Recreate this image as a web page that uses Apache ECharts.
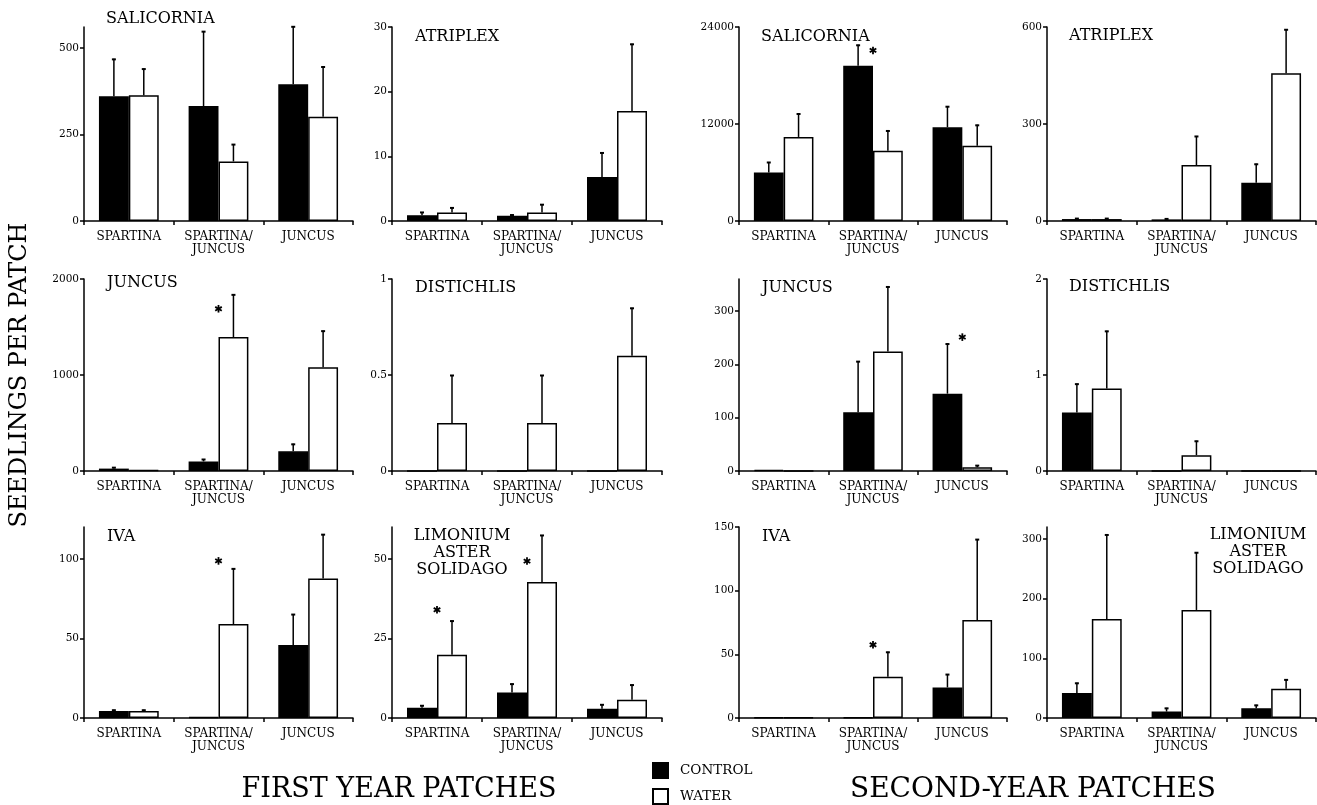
<!DOCTYPE html>
<html>
<head>
<meta charset="utf-8">
<script src="https://cdn.jsdelivr.net/npm/echarts@6/dist/echarts.min.js"></script>
<style>
  html, body { margin: 0; padding: 0; background: #fff; }
  #chart { width: 1317px; height: 805px; }
</style>
</head>
<body>
<div id="chart"></div>
<script>
// Seedlings per patch: mean and standard error, control vs. watered patches.
// Panels run left to right, top to bottom: first-year patches in the two left
// columns, second-year patches in the two right columns.
const categories = ['SPARTINA', 'SPARTINA/\nJUNCUS', 'JUNCUS'];
const seriesNames = ['CONTROL', 'WATER'];

const panelNames = [
  'SALICORNIA', 'ATRIPLEX', 'SALICORNIA', 'ATRIPLEX',
  'JUNCUS', 'DISTICHLIS', 'JUNCUS', 'DISTICHLIS',
  'IVA', 'LIMONIUM\nASTER\nSOLIDAGO', 'IVA', 'LIMONIUM\nASTER\nSOLIDAGO'
];

const controlMean = [
  [360, 332, 395], [0.9, 0.8, 6.8], [6000, 19200, 11600], [6, 5, 118],
  [25, 100, 205], [0, 0, 0], [2, 110, 145], [0.61, 0, 0],
  [4.4, 0.5, 45.8], [3.2, 8, 2.9], [0.5, 0.5, 24], [42, 10.8, 16.4]
];
const controlSE = [
  [108, 216, 167], [0.5, 0.2, 3.8], [1300, 2600, 2600], [3, 3, 59],
  [15, 25, 78], [0, 0, 0], [0, 96, 94], [0.3, 0, 0],
  [0.8, 0, 19.5], [0.8, 2.8, 1.4], [0, 0, 10.5], [17, 6.2, 5.6]
];
const waterMean = [
  [363, 172, 301], [1.3, 1.3, 17], [10400, 8700, 9300], [6, 173, 457],
  [8, 1395, 1080], [0.25, 0.25, 0.6], [0, 224, 7], [0.86, 0.165, 0],
  [4.4, 59, 87.7], [19.9, 42.7, 5.7], [0.5, 32.4, 77], [166, 181, 49]
];
const waterSE = [
  [77, 50, 145], [0.8, 1.3, 10.4], [2900, 2500, 2600], [3, 90, 136],
  [0, 445, 382], [0.25, 0.25, 0.25], [0, 122, 4], [0.6, 0.15, 0],
  [0.8, 35, 27.8], [10.7, 14.8, 4.8], [0, 19.6, 63.5], [141.5, 96.7, 15.7]
];

// significant differences: [category index, height of the asterisk]
const stars = [
  [], [], [[1, 21100]], [],
  [[1, 1690]], [], [[2, 251]], [],
  [[1, 98.7]], [[0, 34], [1, 49.3]], [[1, 57.5]], []
];

const yMax = [560, 30, 24000, 600, 2000, 1, 360, 2, 120, 60, 150, 320];
const yTicks = [
  [0, 250, 500], [0, 10, 20, 30], [0, 12000, 24000], [0, 300, 600],
  [0, 1000, 2000], [0, 0.5, 1], [0, 100, 200, 300], [0, 1, 2],
  [0, 50, 100], [0, 25, 50], [0, 50, 100, 150], [0, 100, 200, 300]
];

// ---- layout ----
const FONT = '"DejaVu Serif", "Liberation Serif", serif';
const GAP = 1 / 3;                       // share of each category band left empty
const colLeft = [84, 392, 739, 1047];
const colWidth = [269, 270, 268, 269];
const rowTop = [27, 279, 527];
const rowHeight = [194, 192, 191];
// where each panel name sits: [x, y of first line, align]
const nameAt = [
  [106, 10, 'left'], [415, 28, 'left'], [761, 28, 'left'], [1069, 27, 'left'],
  [107, 274, 'left'], [415, 279, 'left'], [762, 279, 'left'], [1069, 278, 'left'],
  [107, 528, 'left'], [462, 527, 'center'], [762, 528, 'left'], [1258, 526, 'center']
];
const legendTop = [762, 788];

const black = '#000';
const grids = [], xAxes = [], yAxes = [], series = [], graphics = [];

function errorBar(side) {
  return function (params, api) {
    const cat = api.value(0), mean = api.value(1), se = api.value(2);
    if (!(se > 0)) return;
    const band = api.size([1, 0])[0];
    const barW = band * (1 - GAP) / 2;
    const p0 = api.coord([cat, mean]);
    const p1 = api.coord([cat, mean + se]);
    const x = p0[0] + side * barW / 2;
    return {
      type: 'group',
      children: [
        { type: 'line', shape: { x1: x, y1: p0[1], x2: x, y2: p1[1] },
          style: { stroke: black, lineWidth: 1.5 } },
        { type: 'line', shape: { x1: x - 2, y1: p1[1] + 0.5, x2: x + 2, y2: p1[1] + 0.5 },
          style: { stroke: black, lineWidth: 2 } }
      ]
    };
  };
}

function asterisk(params, api) {
  const p = api.coord([api.value(0), api.value(1)]);
  const r = 3.8;
  const arms = [90, 30, -30].map(function (deg) {
    const a = deg * Math.PI / 180;
    const dx = r * Math.cos(a), dy = r * Math.sin(a);
    return { type: 'line', shape: { x1: p[0] - dx, y1: p[1] - dy, x2: p[0] + dx, y2: p[1] + dy },
             style: { stroke: black, lineWidth: 1.8 } };
  });
  return { type: 'group', children: arms };
}

for (let i = 0; i < 12; i++) {
  const row = Math.floor(i / 4), col = i % 4;
  grids.push({ left: colLeft[col], top: rowTop[row], width: colWidth[col], height: rowHeight[row] });
  xAxes.push({
    type: 'category', gridIndex: i, data: categories,
    axisLine: { lineStyle: { color: black, width: 1.5 } },
    axisTick: { show: true, length: 4, lineStyle: { color: black, width: 1.5 } },
    axisLabel: { interval: 0, color: black, fontFamily: FONT, fontSize: 12, margin: 9, lineHeight: 13 },
    splitLine: { show: false }
  });
  yAxes.push({
    type: 'value', gridIndex: i, min: 0, max: yMax[i],
    axisLine: { show: true, lineStyle: { color: black, width: 1.5 } },
    axisTick: { show: true, length: 4, customValues: yTicks[i], lineStyle: { color: black, width: 1.5 } },
    axisLabel: { customValues: yTicks[i], color: black, fontFamily: FONT, fontSize: 10.5, margin: 5,
                 formatter: function (v) { return String(v); } },
    splitLine: { show: false }
  });

  series.push({
    name: seriesNames[0], type: 'bar', xAxisIndex: i, yAxisIndex: i,
    data: controlMean[i], barGap: '0%', barCategoryGap: (GAP * 100) + '%',
    itemStyle: { color: black, borderColor: black, borderWidth: 1.5 }
  });
  series.push({
    name: seriesNames[1], type: 'bar', xAxisIndex: i, yAxisIndex: i,
    data: waterMean[i], barGap: '0%', barCategoryGap: (GAP * 100) + '%',
    itemStyle: { color: '#fff', borderColor: black, borderWidth: 1.5 }
  });
  series.push({
    name: 'control-se', type: 'custom', xAxisIndex: i, yAxisIndex: i, z: 5,
    renderItem: errorBar(-1),
    data: controlMean[i].map(function (m, k) { return [k, m, controlSE[i][k]]; })
  });
  series.push({
    name: 'water-se', type: 'custom', xAxisIndex: i, yAxisIndex: i, z: 5,
    renderItem: errorBar(1),
    data: waterMean[i].map(function (m, k) { return [k, m, waterSE[i][k]]; })
  });
  if (stars[i].length) {
    series.push({
      name: 'significant', type: 'custom', xAxisIndex: i, yAxisIndex: i, z: 6,
      renderItem: asterisk, data: stars[i]
    });
  }

  graphics.push({
    type: 'text', x: nameAt[i][0], y: nameAt[i][1],
    style: { text: panelNames[i], fill: black, font: '16px ' + FONT,
             align: nameAt[i][2], verticalAlign: 'top', lineHeight: 17 }
  });
}

graphics.push(
  { type: 'text', x: 20, y: 375, rotation: Math.PI / 2,
    style: { text: 'SEEDLINGS PER PATCH', fill: black, font: '24px ' + FONT, align: 'center', verticalAlign: 'middle' } },
  { type: 'text', x: 399, y: 790,
    style: { text: 'FIRST YEAR PATCHES', fill: black, font: '27px ' + FONT, align: 'center', verticalAlign: 'middle' } },
  { type: 'text', x: 1033, y: 790,
    style: { text: 'SECOND-YEAR PATCHES', fill: black, font: '28px ' + FONT, align: 'center', verticalAlign: 'middle' } }
);

// one legend entry per row, stacked
const legends = seriesNames.map(function (name, k) {
  return {
    data: [name], left: 652, top: legendTop[k], padding: 0,
    itemWidth: 15, itemHeight: 15, icon: 'rect', selectedMode: false,
    textStyle: { color: black, fontFamily: FONT, fontSize: 13.5, padding: [0, 0, 0, 7] }
  };
});

const chart = echarts.init(document.getElementById('chart'), null, { renderer: 'canvas' });
chart.setOption({
  animation: false,
  backgroundColor: '#fff',
  grid: grids,
  xAxis: xAxes,
  yAxis: yAxes,
  series: series,
  legend: legends,
  graphic: graphics
});
</script>
</body>
</html>
